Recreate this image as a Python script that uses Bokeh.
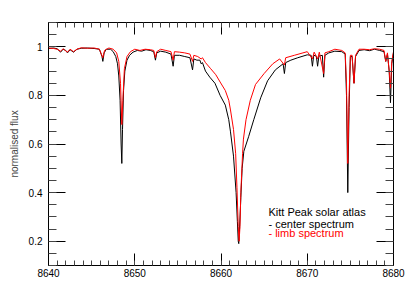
from bokeh.plotting import figure
from bokeh.models import Range1d, LinearAxis, SingleIntervalTicker, ColumnDataSource
from bokeh.core.properties import value
from bokeh.embed import file_html
from bokeh.resources import INLINE

# ---- data ----
center_wl = [8640.0, 8640.6, 8641.0, 8641.4, 8641.7, 8642.0, 8642.2, 8642.5, 8642.9, 8643.3,
             8643.8, 8644.5, 8645.3, 8645.9, 8646.2, 8646.3, 8646.45, 8646.7, 8647.2, 8647.5,
             8647.8, 8648.0, 8648.15, 8648.3, 8648.42, 8648.5, 8648.58, 8648.7, 8648.85, 8649.1,
             8649.4, 8649.8, 8650.3, 8650.8, 8651.3, 8651.8, 8652.2, 8652.4, 8652.55, 8653.0,
             8653.6, 8654.2, 8654.45, 8654.6, 8655.2, 8655.8, 8656.4, 8656.7, 8656.85, 8657.2,
             8657.55, 8657.7, 8657.85, 8658.2, 8658.7, 8659.3, 8659.9, 8660.5, 8660.9, 8661.1,
             8661.45, 8661.75, 8661.9, 8662.0, 8662.06, 8662.15, 8662.3, 8662.45, 8662.65, 8663.2,
             8663.8, 8664.6, 8665.4, 8666.3, 8667.2, 8667.35, 8667.5, 8668.1, 8668.9, 8670.0,
             8670.45, 8670.6, 8670.75, 8671.05, 8671.2, 8671.35, 8671.75, 8671.9, 8672.05, 8672.5,
             8673.2, 8674.0, 8674.4, 8674.55, 8674.7, 8674.85, 8675.0, 8675.2, 8675.42, 8675.6,
             8676.0, 8676.6, 8677.2, 8677.8, 8678.4, 8678.9, 8679.1, 8679.3, 8679.5, 8679.65,
             8679.8, 8680.0]
center_flux = [0.993, 0.995, 0.992, 0.978, 0.990, 0.985, 0.975, 0.988, 0.978, 0.990,
               0.994, 0.995, 0.993, 0.990, 0.960, 0.940, 0.975, 0.990, 0.990, 0.980,
               0.960, 0.930, 0.880, 0.780, 0.600, 0.520, 0.660, 0.820, 0.900, 0.945,
               0.965, 0.978, 0.985, 0.982, 0.988, 0.985, 0.980, 0.945, 0.975, 0.982,
               0.978, 0.970, 0.920, 0.965, 0.965, 0.960, 0.955, 0.905, 0.950, 0.945,
               0.945, 0.930, 0.935, 0.900, 0.875, 0.850, 0.800, 0.760, 0.700, 0.650,
               0.550, 0.400, 0.280, 0.200, 0.190, 0.250, 0.380, 0.500, 0.570, 0.630,
               0.700, 0.790, 0.860, 0.905, 0.930, 0.890, 0.935, 0.945, 0.955, 0.967,
               0.965, 0.920, 0.965, 0.962, 0.920, 0.962, 0.965, 0.875, 0.965, 0.975,
               0.982, 0.980, 0.970, 0.800, 0.400, 0.750, 0.960, 0.960, 0.850, 0.960,
               0.985, 0.988, 0.984, 0.990, 0.985, 0.980, 0.940, 0.970, 0.900, 0.770,
               0.930, 0.975]

limb_wl = [8640.0, 8640.6, 8641.0, 8641.4, 8641.7, 8642.0, 8642.2, 8642.5, 8642.9, 8643.3,
           8643.8, 8644.5, 8645.3, 8645.9, 8646.3, 8646.5, 8647.0, 8647.5, 8647.9, 8648.15,
           8648.35, 8648.5, 8648.62, 8648.8, 8649.1, 8649.5, 8650.0, 8650.6, 8651.2, 8651.8,
           8652.2, 8652.4, 8652.55, 8653.0, 8653.6, 8654.2, 8654.45, 8654.6, 8655.2, 8655.8,
           8656.4, 8656.7, 8656.85, 8657.3, 8657.7, 8657.85, 8658.2, 8658.8, 8659.4, 8659.9,
           8660.5, 8660.9, 8661.1, 8661.45, 8661.7, 8661.85, 8662.0, 8662.1, 8662.2, 8662.3,
           8662.5, 8662.6, 8662.9, 8663.4, 8664.0, 8665.0, 8666.0, 8666.8, 8667.35, 8667.5,
           8668.5, 8669.5, 8670.0, 8670.6, 8670.8, 8671.2, 8671.4, 8671.9, 8672.05, 8672.5,
           8673.2, 8674.0, 8674.4, 8674.55, 8674.7, 8674.85, 8675.0, 8675.2, 8675.42, 8675.6,
           8676.0, 8676.6, 8677.2, 8677.8, 8678.4, 8678.9, 8679.1, 8679.3, 8679.5, 8679.65,
           8679.8, 8680.0]
limb_flux = [0.995, 0.993, 0.990, 0.982, 0.992, 0.983, 0.978, 0.990, 0.980, 0.990,
             0.996, 0.994, 0.995, 0.990, 0.955, 0.985, 0.995, 0.990, 0.975, 0.940,
             0.850, 0.680, 0.780, 0.910, 0.960, 0.980, 0.990, 0.985, 0.990, 0.988,
             0.985, 0.955, 0.980, 0.990, 0.985, 0.980, 0.945, 0.980, 0.978, 0.975,
             0.970, 0.940, 0.965, 0.960, 0.950, 0.955, 0.935, 0.910, 0.885, 0.855,
             0.820, 0.780, 0.740, 0.660, 0.560, 0.420, 0.260, 0.200, 0.260, 0.400,
             0.560, 0.620, 0.700, 0.780, 0.845, 0.890, 0.930, 0.950, 0.925, 0.955,
             0.965, 0.975, 0.980, 0.950, 0.978, 0.950, 0.978, 0.890, 0.975, 0.980,
             0.990, 0.985, 0.975, 0.850, 0.520, 0.800, 0.965, 0.965, 0.850, 0.965,
             0.990, 0.990, 0.988, 0.992, 0.990, 0.985, 0.940, 0.975, 0.900, 0.830,
             0.940, 0.980]

x_ticks_interval = 10
y_ticks_interval = 0.2
legend_title = "Kitt Peak solar atlas"
legend_lines = ["- center spectrum", "- limb spectrum"]
legend_colors = ["black", "red"]

FONT = "Liberation Sans"

p = figure(width=415, height=284, output_backend="svg", toolbar_location=None,
           x_range=Range1d(8640, 8680), y_range=Range1d(0.1, 1.1),
           min_border_left=48, min_border_right=22, min_border_top=22, min_border_bottom=19,
           x_axis_location=None, y_axis_location=None)
p.grid.visible = False
p.outline_line_color = "black"
p.outline_line_width = 1
p.background_fill_color = "white"
p.border_fill_color = "white"

def style_axis(ax, xaxis, labels):
    if xaxis:
        ax.ticker = SingleIntervalTicker(interval=x_ticks_interval, num_minor_ticks=10)
        ax.major_tick_in = 12
        ax.minor_tick_in = 5
    else:
        ax.ticker = SingleIntervalTicker(interval=y_ticks_interval, num_minor_ticks=4)
        ax.major_tick_in = 17
        ax.minor_tick_in = 8
    ax.major_tick_out = 0
    ax.minor_tick_out = 0
    ax.axis_line_color = "black"
    ax.major_tick_line_color = "black"
    ax.minor_tick_line_color = "#444444"
    ax.major_label_text_font = FONT
    ax.major_label_text_font_size = "10px"
    if labels:
        ax.major_label_text_color = "black"
        ax.major_label_standoff = 3 if xaxis else 6
    else:
        ax.major_label_text_color = None
        ax.major_label_standoff = 0

xb = LinearAxis()
style_axis(xb, True, True)
p.add_layout(xb, "below")
xt = LinearAxis()
style_axis(xt, True, False)
p.add_layout(xt, "above")
yl = LinearAxis(axis_label="normalised flux")
style_axis(yl, False, True)
yl.axis_label_text_font = FONT
yl.axis_label_text_font_size = "10px"
yl.axis_label_text_font_style = "normal"
yl.axis_label_standoff = 6
p.add_layout(yl, "left")
yr = LinearAxis()
style_axis(yr, False, False)
p.add_layout(yr, "right")

p.line(center_wl, center_flux, line_color="black", line_width=1)
p.line(limb_wl, limb_flux, line_color="red", line_width=1)

# legend text (annotation positions in data units)
src = ColumnDataSource(dict(x=[8665.5, 8665.5, 8665.5], y=[0.32, 0.272, 0.235],
                            t=[legend_title] + legend_lines,
                            c=["black"] + legend_colors))
p.text(x="x", y="y", text="t", text_color="c", source=src,
       text_font=value(FONT), text_font_size="11px", text_baseline="alphabetic")

open("out.html", "w").write(file_html(p, INLINE))
